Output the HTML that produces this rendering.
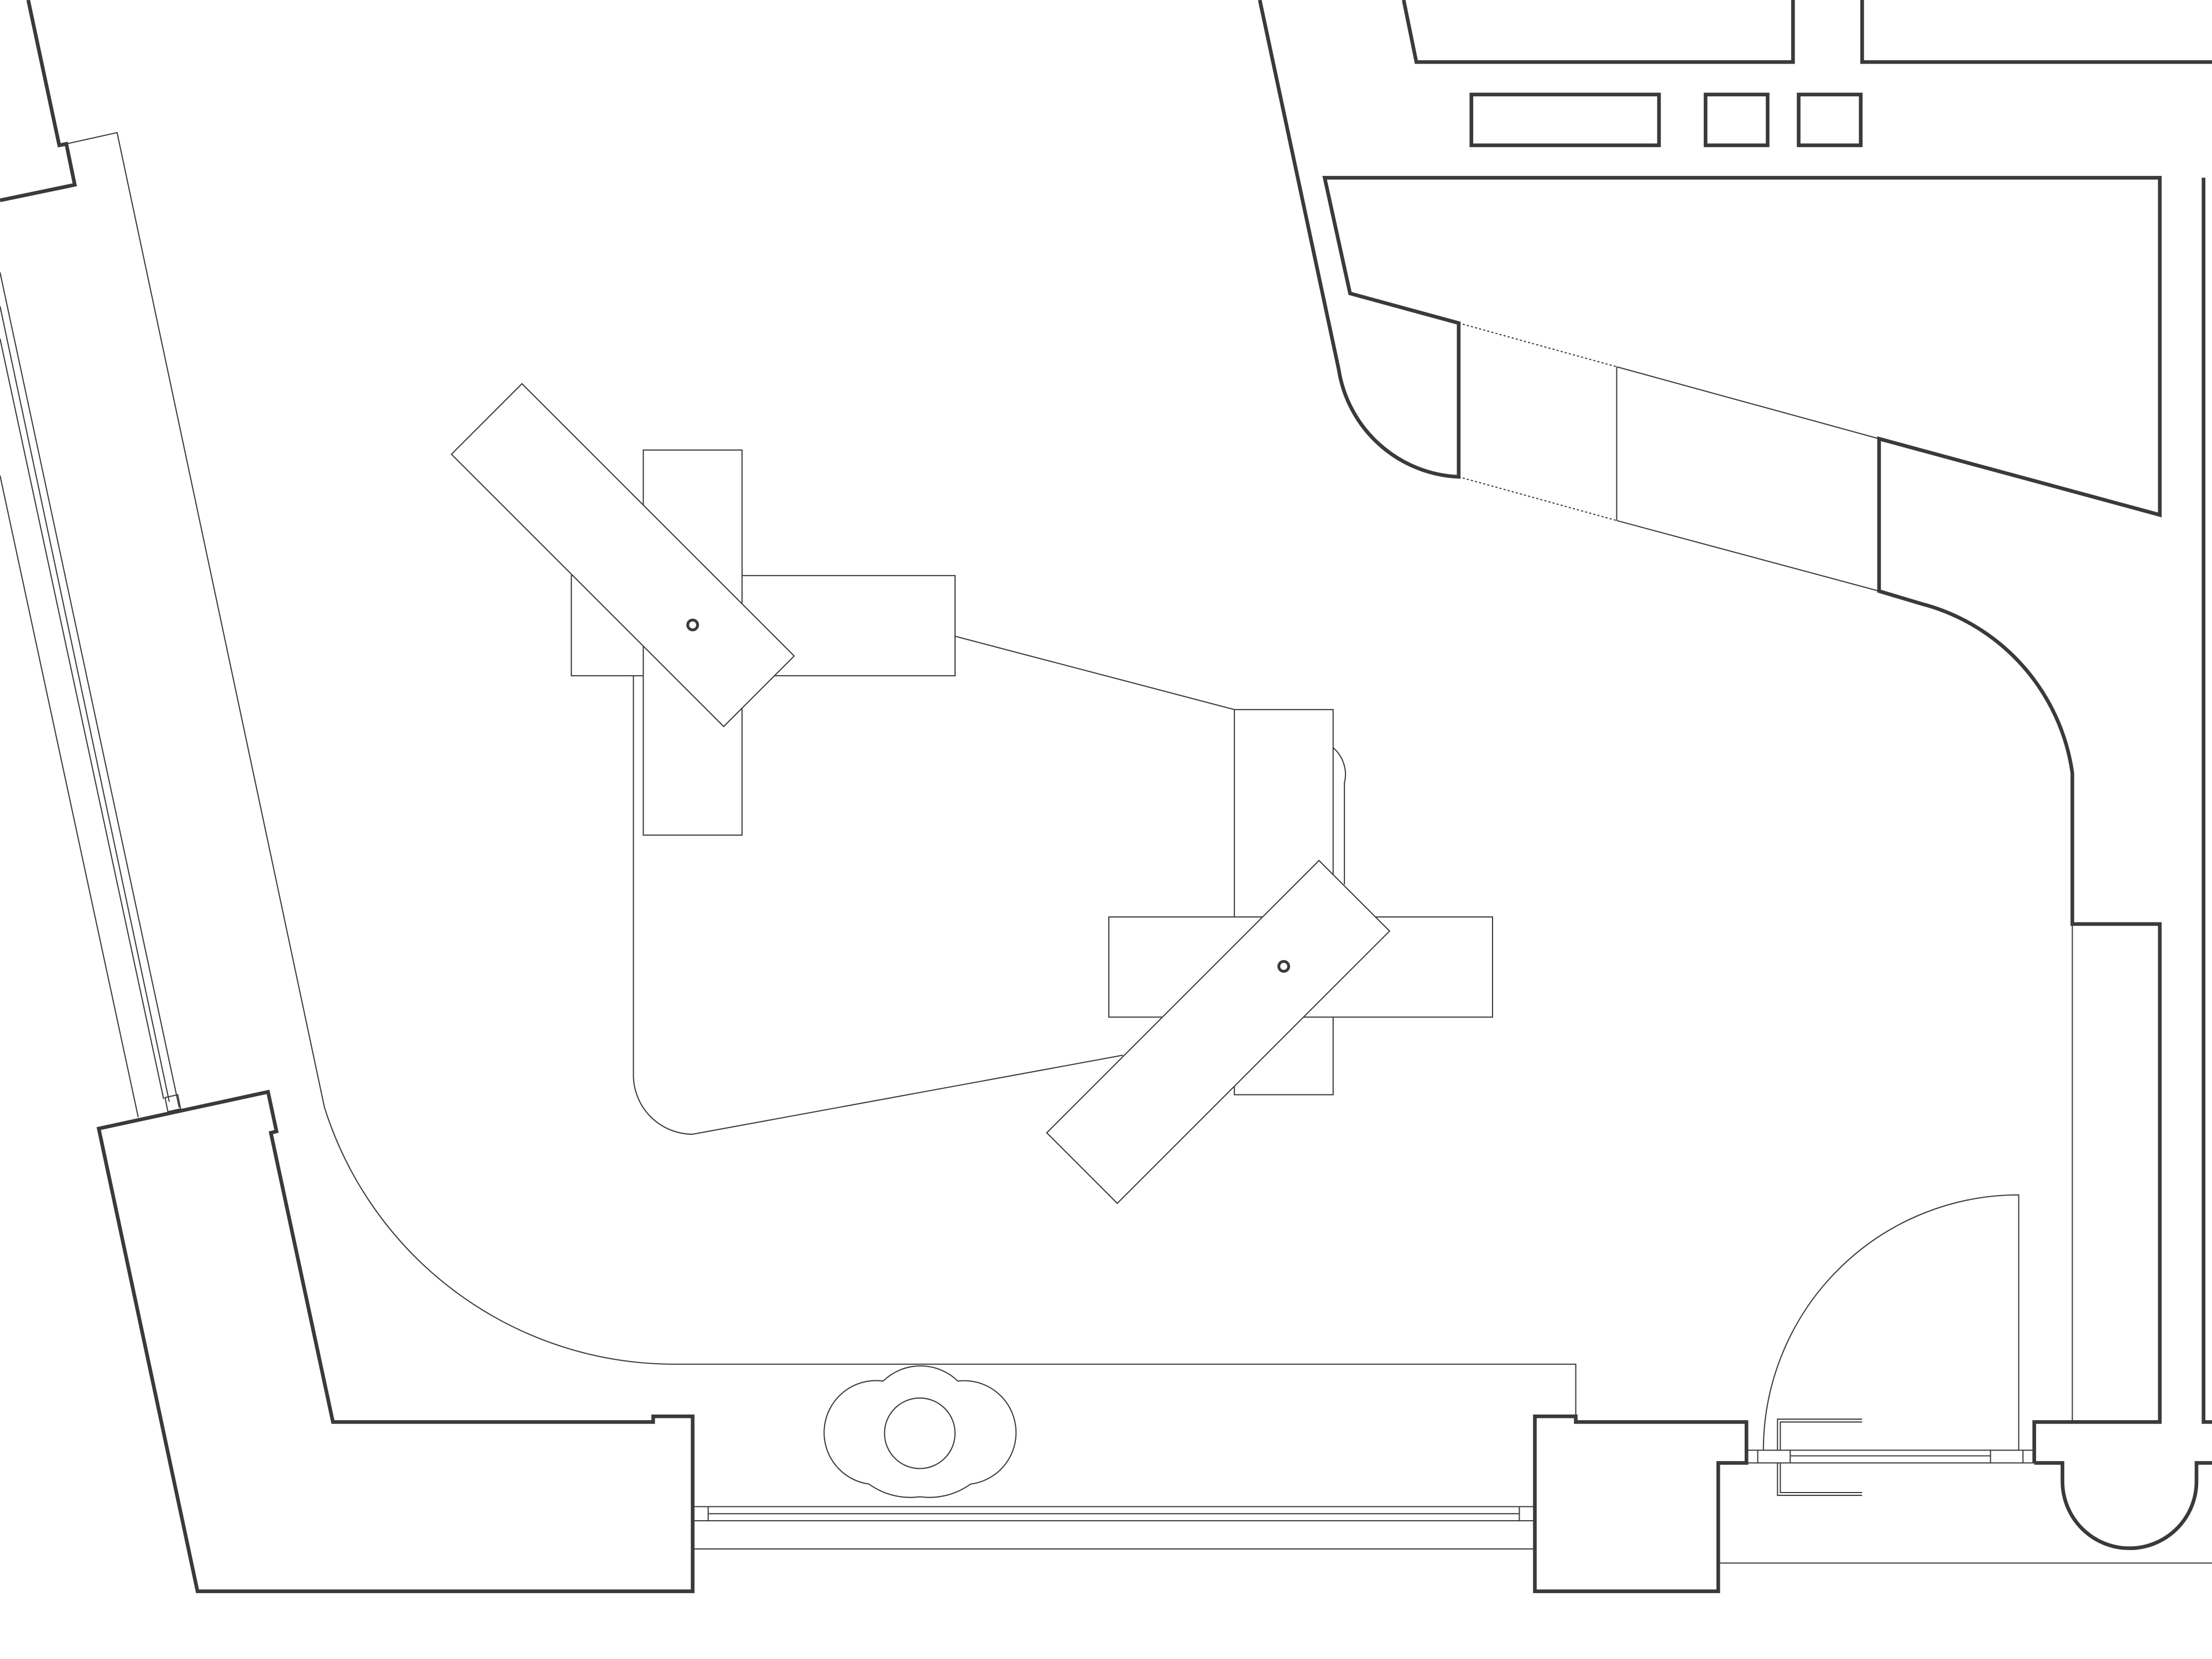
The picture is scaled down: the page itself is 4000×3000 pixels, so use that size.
<!DOCTYPE html>
<html><head><style>html,body{margin:0;padding:0;background:#fff}svg{display:block}</style></head>
<body>
<svg width="4000" height="3000" viewBox="0 0 1568 1176" preserveAspectRatio="none" xmlns="http://www.w3.org/2000/svg">
<g fill="none" stroke="#3a3a3a" stroke-width="0.8">
<line x1="0" y1="193" x2="127" y2="785"/>
<line x1="0" y1="217" x2="120" y2="781"/>
<line x1="0" y1="240" x2="116" y2="779"/>
<line x1="0" y1="337" x2="98" y2="792"/>
<path d="M117,778 L126,776 L128,786 L119,788 Z"/>
<path d="M47,102 L83,94 L230,785 A260,260 0 0 0 475,967 L1117,967 L1117,1008"/>
<line x1="491" y1="1068" x2="1088" y2="1068"/>
<line x1="491" y1="1078" x2="1088" y2="1078"/>
<line x1="491" y1="1098" x2="1088" y2="1098"/>
<line x1="502" y1="1073" x2="1077" y2="1073"/>
<line x1="502" y1="1068" x2="502" y2="1078"/>
<line x1="1077" y1="1068" x2="1077" y2="1078"/>
<line x1="1218" y1="1108" x2="1568" y2="1108"/>
<path d="M1250,1028 A181,181 0 0 1 1431,847 L1431,1028"/>
<rect x="1238" y="1028" width="204" height="9"/>
<line x1="1246" y1="1028" x2="1246" y2="1037"/>
<line x1="1269" y1="1028" x2="1269" y2="1037"/>
<line x1="1411" y1="1028" x2="1411" y2="1037"/>
<line x1="1434" y1="1028" x2="1434" y2="1037"/>
<line x1="1269" y1="1032" x2="1411" y2="1032"/>
<path d="M1260,1028 L1260,1006 L1320,1006 M1262,1028 L1262,1008 L1320,1008"/>
<path d="M1260,1037 L1260,1060 L1320,1060 M1262,1037 L1262,1058 L1320,1058"/>
<line x1="1469" y1="655" x2="1469" y2="1008"/>
<line x1="1146" y1="260" x2="1332" y2="311"/>
<line x1="1146" y1="369" x2="1332" y2="419"/>
<line x1="1146" y1="260" x2="1146" y2="369"/>
<line x1="1034" y1="229" x2="1146" y2="260" stroke-dasharray="1.5,1.5"/>
<line x1="1034" y1="338" x2="1146" y2="369" stroke-dasharray="1.5,1.5"/>
<line x1="677" y1="451" x2="875" y2="503"/>
<path d="M449,479 L449,762 A42,42 0 0 0 491,804 L796,748"/>
<path d="M945,530 A25,25 0 0 1 953,555 L953,627"/>
<path d="M626,979 A38,38 0 0 1 679,979 A34,34 0 0 1 688,1052 A50,50 0 0 1 652,1061 A50,50 0 0 1 616,1052 A34,34 0 0 1 626,979 Z"/>
<circle cx="652" cy="1016" r="25"/>
</g>
<g fill="#fff" stroke="#3a3a3a" stroke-width="0.8">
<rect x="405" y="408" width="272" height="71"/>
<rect x="456" y="319" width="70" height="273"/>
<polygon points="320,322 370,272 563,465 513,515"/>
<rect x="875" y="503" width="70" height="273"/>
<rect x="786" y="650" width="272" height="71"/>
<polygon points="742,803 935,610 985,660 792,853"/>
</g>
<g fill="none" stroke="#3a3a3a" stroke-width="2">
<circle cx="491" cy="443" r="3.5"/>
<circle cx="910" cy="685" r="3.5"/>
</g>
<g fill="none" stroke="#3a3a3a" stroke-width="2.6">
<polyline points="20,0 42,103 47,102 53,131 0,142"/>
<polygon points="70,800 190,774 196,802 192,803 236,1008 463,1008 463,1004 491,1004 491,1128 140,1128"/>
<polygon points="1088,1128 1088,1004 1117,1004 1117,1008 1238,1008 1238,1037 1218,1037 1218,1128"/>
<path d="M1442,1037 L1442,1008 L1531,1008 L1531,655 L1469,655 L1469,548 A145,145 0 0 0 1362,428 L1332,419 L1332,311 L1531,365 L1531,126 L939,126 L957,208 L1034,229 L1034,338 A90,90 0 0 1 949,262 L893,0"/>
<polyline points="1562,126 1562,1008 1568,1008"/>
<path d="M1442,1037 L1462,1037 L1462,1050 A47.5,47.5 0 0 0 1557,1050 L1557,1037 L1568,1037"/>
<polyline points="995,0 1004,44 1271,44 1271,0"/>
<polyline points="1320,0 1320,44 1568,44"/>
<rect x="1043" y="67" width="133" height="36"/>
<rect x="1209" y="67" width="44" height="36"/>
<rect x="1275" y="67" width="44" height="36"/>
</g>
</svg>
</body></html>
